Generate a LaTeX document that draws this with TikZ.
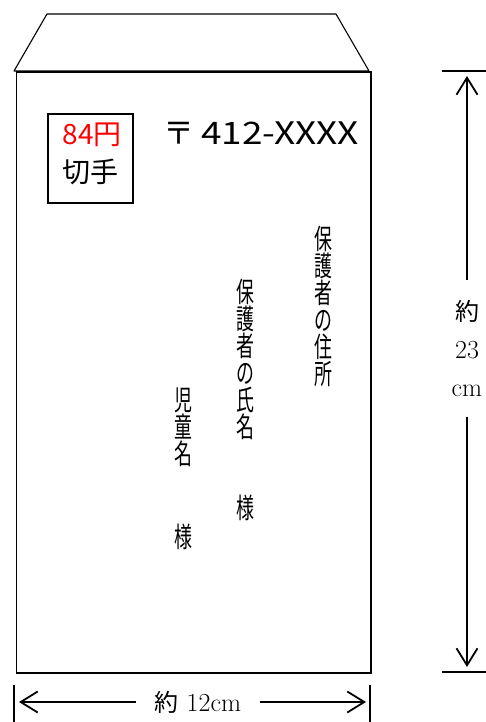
\documentclass[tikz,border=0pt]{standalone}
\usepackage{fontspec}
\usepackage{graphicx}
\usepackage{tikz}
\usetikzlibrary{positioning,arrows.meta,calc}
\newfontfamily\jpfont{Noto Sans CJK JP}
\definecolor{stampRed}{HTML}{FF0000}
\tikzset{
  envline/.style={draw=black, line width=1.8pt},
  flapline/.style={draw=black, line width=1.1pt, line join=round},
  stampbox/.style={draw, line width=1.8pt, minimum width=85pt,
                   minimum height=89pt, inner sep=0pt},
  jtext/.style={font=\jpfont\fontsize{28}{30}\selectfont, inner sep=0pt},
  vtext/.style={font=\jpfont\fontsize{28}{27}\selectfont, align=center,
                inner sep=0pt, xscale=0.64, transform shape},
  dimlabel/.style={font=\fontsize{26}{38}\selectfont, align=center},
  dimarrow/.style={-{Straight Barb[length=17pt,width=21pt]}, line width=1.8pt},
  tickline/.style={line width=1.6pt},
}

\begin{document}
\begin{tikzpicture}[x=1pt, y=-1pt]
\useasboundingbox (0,0) rectangle (486,722);
\def\xHeight{467}   % x-position of height dimension line
\def\yWidth{702}    % y-position of width dimension line

%% Envelope
\draw[flapline] (14,71) -- (47,14) -- (336,14) -- (369,71) -- cycle;
\draw[envline] (16.5,72) rectangle (371,673);

%% Stamp
\node[stampbox] (stamp) at (90.5,158.5) {};
\node[jtext, text=stampRed] (price) at (92,135) {84円};
\node[jtext] (kitte) at (90,172) {切手};

%% Postal code
\node[font=\jpfont\fontsize{31}{32}\selectfont, anchor=west, inner sep=0pt]
  (zip) at (163,133) {〒 \scalebox{1.19}[1]{412-XXXX}};

%% Vertical address lines
\node[vtext] (addr) at (323,306) {保\\護\\者\\の\\住\\所};
\node[vtext] (parent) at (245,359) {保\\護\\者\\の\\氏\\名};
\node[vtext] (parentSama) at (245,508) {様};
\node[vtext] (child) at (183,427) {児\\童\\名};
\node[vtext] (childSama) at (183,537) {様};

%% Height dimension
\draw[tickline] (442,71) -- (486,71);
\draw[tickline] (442,672) -- (486,672);
\coordinate (hTop) at (\xHeight,76);
\coordinate (hBot) at (\xHeight,667);
\node[dimlabel, inner xsep=0pt, inner ysep=20pt] (height) at (\xHeight,348.5)
  {{\jpfont\fontsize{24}{38}\selectfont 約}\\23\\cm};
\draw[dimarrow] (height) -- (hTop);
\draw[dimarrow] (height) -- (hBot);

%% Width dimension
\draw[tickline] (14,685) -- (14,722);
\draw[tickline] (370,685) -- (370,722);
\coordinate (wLeft) at (19,\yWidth);
\coordinate (wRight) at (366,\yWidth);
\node[dimlabel, inner xsep=19pt, inner ysep=0pt] (width) at (198,\yWidth)
  {{\jpfont\fontsize{24}{38}\selectfont 約} 12cm};
\draw[dimarrow] (width) -- (wLeft);
\draw[dimarrow] (width) -- (wRight);
\end{tikzpicture}
\end{document}
